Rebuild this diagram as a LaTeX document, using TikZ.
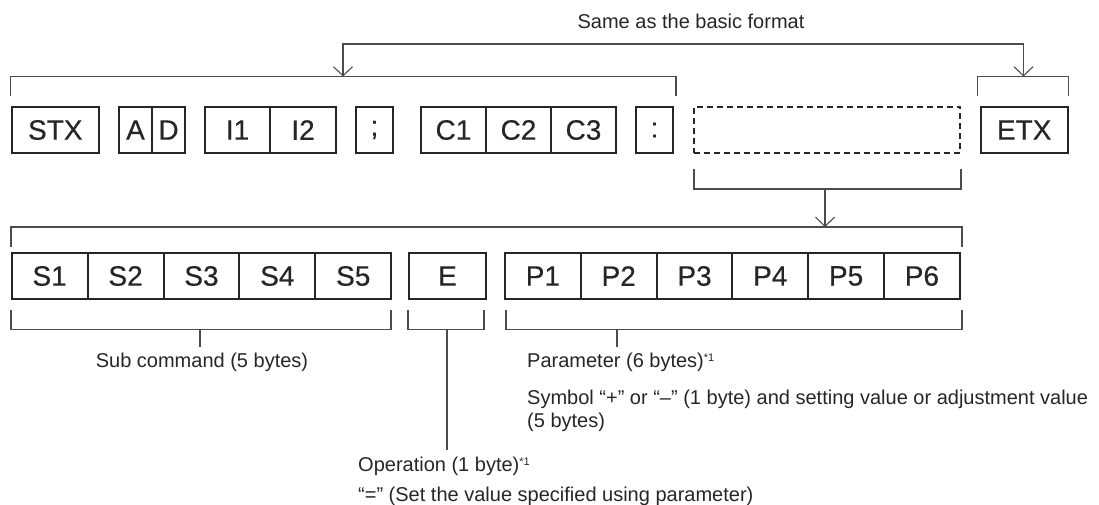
\documentclass[tikz,border=0pt]{standalone}
\usepackage{fontspec}
\setmainfont{Liberation Sans}
\newfontfamily\boxfont[FakeBold=0.4]{Liberation Sans}
\usetikzlibrary{arrows.meta,positioning,calc}

\begin{document}
\begin{tikzpicture}[x=1pt,y=-1pt,every node/.style={text=black!85},
  cell/.style={draw=black!85,line width=2pt,minimum height=46.5pt,inner sep=0pt,
    font=\boxfont\fontsize{28}{28}\selectfont},
  brk/.style={draw=black!70,line width=1.1pt},
  lbl/.style={inner sep=0pt,font=\fontsize{20}{24}\selectfont},
  tip/.style={-{Straight Barb[length=9pt,width=19pt]}},
  tips/.style={{Straight Barb[length=9pt,width=19pt]}-{Straight Barb[length=9pt,width=19pt]}}]
  \useasboundingbox (0,0) rectangle (1099,504);
  % Header title
  \node[lbl,anchor=base] (same) at (691,28) {Same as the basic format};
  % Top row of the command
  \node[cell,minimum width=87.3pt] (stx) at (55.3,130) {STX};
  \node[cell,minimum width=33pt] (a) at (135.5,130) {A};
  \node[cell,minimum width=33pt] (d) at (168.5,130) {D};
  \node[cell,minimum width=65pt] (i1) at (237.5,130) {I1};
  \node[cell,minimum width=66pt] (i2) at (303,130) {I2};
  \node[cell,minimum width=37pt] (semi) at (374.5,130) {;};
  \node[cell,minimum width=65pt] (c1) at (453.5,130) {C1};
  \node[cell,minimum width=65pt] (c2) at (518.5,130) {C2};
  \node[cell,minimum width=65pt] (c3) at (583.5,130) {C3};
  \node[cell,minimum width=37pt] (colon) at (654.5,130) {:};
  \node[cell,dash pattern=on 6pt off 4pt,minimum width=266pt] (param) at (827,130) {};
  \node[cell,minimum width=87pt] (etx) at (1024.2,130) {ETX};
  % Brackets over the top row
  \draw[brk] (10.7,96) |- (676,76.5) -- (676,96);
  \draw[brk] (977.7,96) |- (1068.7,76.5) -- (1068.7,96);
  \coordinate (hdr) at (343,76.5);
  \coordinate (etxb) at (1023.5,76.5);
  \draw[brk,tips] (hdr) -- ++(0,-32.5) -| (etxb);
  % Bracket under the parameter area
  \draw[brk] (694,169) |- (961,189) -- (961,169);
  \coordinate (dsb) at (825,189);
  \coordinate (low) at (825,227);
  \draw[brk,tip] (dsb) -- (low);
  \draw[brk] (11,246.5) |- (962,227) -- (962,246.5);
  % Second row
  \foreach \i in {1,...,5}
    \node[cell,minimum width=75.9pt] (s\i) at ({11.7+75.9*(\i-0.5)},276) {S\i};
  \node[cell,minimum width=77pt] (e) at (447.5,276) {E};
  \foreach \i in {1,...,6}
    \node[cell,minimum width=75.8pt] (p\i) at ({505+75.8*(\i-0.5)},276) {P\i};
  % Brackets under the second row
  \draw[brk] (11,310) |- (391,329.3) -- (391,310);
  \draw[brk] (408,310) |- (484,329.3) -- (484,310);
  \draw[brk] (506,310) |- (962,329.3) -- (962,310);
  \coordinate (subb) at (200,329.3);
  \coordinate (subt) at (200,346.7);
  \coordinate (opb) at (447,329.3);
  \coordinate (opt) at (447,450);
  \coordinate (parb) at (617,329.3);
  \coordinate (part) at (617,346.5);
  \draw[brk] (subb) -- (subt);
  \draw[brk] (opb) -- (opt);
  \draw[brk] (parb) -- (part);
  % Labels
  \node[lbl,anchor=base] (subc) at (202,367) {Sub command (5 bytes)};
  \node[lbl,anchor=base west] (parl) at (527,367)
    {Parameter (6 bytes)\raisebox{6pt}{\fontsize{11}{11}\selectfont*1}};
  \node[lbl,anchor=base west] (sym) at (527,404)
    {Symbol “+” or “–” (1 byte) and setting value or adjustment value};
  \node[lbl,anchor=base west] (five) at (527,427.5) {(5 bytes)};
  \node[lbl,anchor=base west] (oper) at (358,471)
    {Operation (1 byte)\raisebox{6pt}{\fontsize{11}{11}\selectfont*1}};
  \node[lbl,anchor=base west] (eq) at (358,501)
    {“=” (Set the value specified using parameter)};
\end{tikzpicture}
\end{document}
